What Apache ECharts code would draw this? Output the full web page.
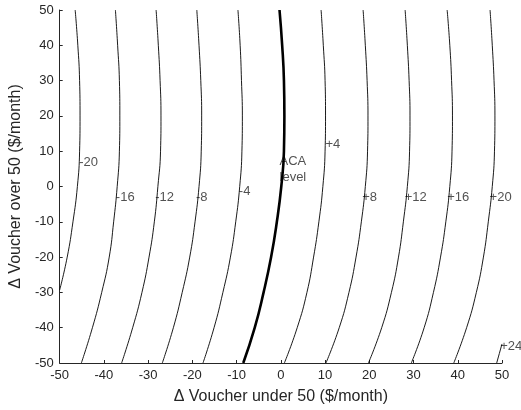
<!DOCTYPE html>
<html>
<head>
<meta charset="utf-8">
<script src="https://cdn.jsdelivr.net/npm/echarts@6/dist/echarts.min.js"></script>
<style>
  html, body { margin: 0; padding: 0; background: #fff; }
  #main { width: 521px; height: 410px; }
</style>
</head>
<body>
<div id="main"></div>
<script>
// 等值线数据 (x, y)
const lineM20 = [[-46.5, 50], [-45.9, 40], [-45.5, 30], [-45.4, 20], [-45.5, 10], [-46.0, 0], [-47.0, -10], [-48.3, -20], [-50, -29.3]];
const lineM16 = [[-37.4, 50], [-36.9, 40], [-36.5, 30], [-36.4, 20], [-36.5, 10], [-37.0, 0], [-37.8, -10], [-38.8, -20], [-40.5, -30], [-42.6, -40], [-45.1, -50]];
const lineM12 = [[-28.2, 50], [-27.7, 40], [-27.3, 30], [-27.1, 20], [-27.2, 10], [-27.8, 0], [-28.6, -10], [-29.8, -20], [-31.4, -30], [-33.5, -40], [-36.0, -50]];
const lineM8 = [[-19.0, 50], [-18.5, 40], [-18.1, 30], [-17.9, 20], [-18.0, 10], [-18.5, 0], [-19.4, -10], [-20.6, -20], [-22.3, -30], [-24.3, -40], [-26.8, -50]];
const lineM4 = [[-9.7, 50], [-9.2, 40], [-8.9, 30], [-8.7, 20], [-8.8, 10], [-9.3, 0], [-10.2, -10], [-11.4, -20], [-13.1, -30], [-15.1, -40], [-17.6, -50]];
const lineAca = [[-0.3, 50], [0.3, 40], [0.7, 30], [0.8, 20], [0.7, 10], [0.1, 0], [-0.9, -10], [-2.2, -20], [-3.9, -30], [-5.9, -40], [-8.5, -50]];
const lineP4 = [[9.1, 50], [9.6, 40], [10.0, 30], [10.1, 20], [10.0, 10], [9.5, 0], [8.6, -10], [7.4, -20], [5.9, -30], [3.7, -40], [0.8, -50]];
const lineP8 = [[18.6, 50], [19.1, 40], [19.5, 30], [19.7, 20], [19.6, 10], [19.1, 0], [18.2, -10], [17.0, -20], [15.4, -30], [13.2, -40], [10.2, -50]];
const lineP12 = [[28.1, 50], [28.6, 40], [29.0, 30], [29.2, 20], [29.1, 10], [28.6, 0], [27.7, -10], [26.6, -20], [25.0, -30], [22.8, -40], [19.8, -50]];
const lineP16 = [[37.6, 50], [38.2, 40], [38.6, 30], [38.8, 20], [38.7, 10], [38.2, 0], [37.3, -10], [36.1, -20], [34.5, -30], [32.4, -40], [29.5, -50]];
const lineP20 = [[47.3, 50], [47.8, 40], [48.2, 30], [48.4, 20], [48.3, 10], [47.8, 0], [46.9, -10], [45.8, -20], [44.2, -30], [42.0, -40], [39.1, -50]];
const lineP24 = [[48.8, -50], [50, -44.6]];

// 等值线标注
const labelText = ['-20', '-16', '-12', '-8', '-4', 'ACA\nlevel', '+4', '+8', '+12', '+16', '+20', '+24'];
const labelPos = [[-45.6, 6.9], [-37.3, -3.0], [-28.4, -3.0], [-19.2, -3.0], [-9.5, -1.3], [-0.3, 4.7], [10.1, 11.8], [18.4, -3.0], [28.0, -3.0], [37.6, -3.0], [47.2, -3.0], [49.6, -45.2]];

const thinLines = [lineM20, lineM16, lineM12, lineM8, lineM4, lineP4, lineP8, lineP12, lineP16, lineP20, lineP24];

let myChart = echarts.init(document.getElementById('main'));

const fontName = 'Liberation Sans, Arial, sans-serif';
const axisText = { color: '#262626', fontSize: 13, fontFamily: fontName };

let series = [];
for (let line of thinLines) {
    series.push({
        type: 'line',
        data: line,
        smooth: true,
        symbol: 'none',
        silent: true,
        lineStyle: { color: '#000', width: 0.9 }
    });
}
// ACA 水平线加粗
series.push({
    type: 'line',
    data: lineAca,
    smooth: true,
    symbol: 'none',
    silent: true,
    lineStyle: { color: '#000', width: 2.6 }
});
series.push({
    type: 'scatter',
    symbolSize: 0,
    silent: true,
    data: labelPos.map((p, i) => ({ value: p, name: labelText[i] })),
    label: {
        show: true,
        position: [0, 0],
        align: 'left',
        verticalAlign: 'middle',
        formatter: (p) => p.name,
        color: '#262626',
        fontSize: 13,
        lineHeight: 16,
        fontFamily: fontName
    },
    z: 1
});

let option = {
    animation: false,
    backgroundColor: '#fff',
    grid: { left: 56, right: 19, top: 10, bottom: 47 },
    xAxis: {
        type: 'value',
        min: -50,
        max: 50,
        interval: 10,
        name: 'Δ Voucher under 50 ($/month)',
        nameLocation: 'middle',
        nameGap: 26,
        nameTextStyle: { color: '#262626', fontSize: 16, fontFamily: fontName },
        axisLine: { onZero: false, lineStyle: { color: '#262626', width: 1 } },
        axisTick: { inside: true, length: 3, lineStyle: { color: '#262626' } },
        axisLabel: Object.assign({ margin: 6 }, axisText),
        splitLine: { show: false }
    },
    yAxis: {
        type: 'value',
        min: -50,
        max: 50,
        interval: 10,
        name: 'Δ Voucher over 50 ($/month)',
        nameLocation: 'middle',
        nameGap: 30,
        nameTextStyle: { color: '#262626', fontSize: 16, fontFamily: fontName },
        axisLine: { show: true, onZero: false, lineStyle: { color: '#262626', width: 1 } },
        axisTick: { show: true, inside: true, length: 3, lineStyle: { color: '#262626' } },
        axisLabel: Object.assign({ margin: 6 }, axisText),
        splitLine: { show: false }
    },
    series: series
};

myChart.setOption(option);
</script>
</body>
</html>
